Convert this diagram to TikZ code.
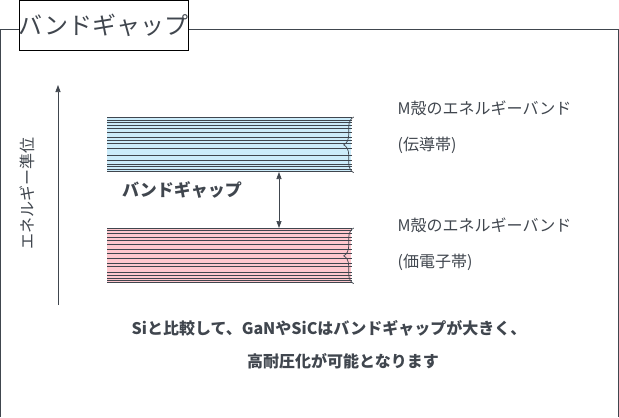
\documentclass[tikz,border=0pt]{standalone}
\usepackage{fontspec}
\setmainfont{Noto Sans CJK JP}
\usetikzlibrary{arrows.meta, positioning, decorations.pathreplacing}
\definecolor{linegray}{RGB}{64,70,78}
\definecolor{condblue}{RGB}{204,236,250}
\definecolor{valpink}{RGB}{255,200,206}
\begin{document}
\begin{tikzpicture}[x=1pt, y=-1pt,
        band/.style={rectangle, draw=none, minimum width=244pt, minimum height=55pt, anchor=north west, inner sep=0pt},
        lbl/.style={font=\fontsize{16}{18}\selectfont, text=linegray, anchor=west},
        every path/.style={line width=0.7pt}
    ]
    \useasboundingbox (0,0) rectangle (619,418);

    % Frame and title
    \draw[linegray] (0,417) -- (0,29.5) -- (618,29.5) -- (618,417);
    \node[draw=black, fill=white, minimum width=143pt, minimum height=50pt, anchor=north west, inner sep=0pt,
          font=\fontsize{24}{26}\selectfont, text=linegray] (title) at (18.5,0.3) {バンドギャップ};

    % Energy axis
    \coordinate (axbot) at (58,305);
    \coordinate (axtop) at (58,85);
    \draw[linegray, -{Triangle[length=7pt, width=5pt]}] (axbot) -- (axtop);
    \node[rotate=90, font=\fontsize{16}{18}\selectfont, text=linegray] (axis) at (27,193) {エネルギー準位};

    % Bands
    \node[band, fill=condblue] (cb) at (107,117) {};
    \node[band, fill=valpink] (vb) at (107,228) {};
    \foreach \d in {0.3,3,5.7,8.3,11.3,15.3,20,23.3,26.7,31.3,38,43.7,47,49.7,52,54.7}
        \draw[linegray] ([yshift=-\d pt]cb.north west) -- ([yshift=-\d pt]cb.north east);
    \foreach \d in {0.3,2.7,5.7,9,12.3,16.7,21.7,25.7,30,35,38.3,44.3,47,50,52.3,54.7}
        \draw[linegray] ([yshift=-\d pt]vb.north west) -- ([yshift=-\d pt]vb.north east);

    % Gap
    \draw[linegray, {Triangle[length=7pt, width=5pt]}-{Triangle[length=7pt, width=5pt]}] (279,172) -- (279,228);
    \node[font=\bfseries\fontsize{17}{19}\selectfont, text=linegray] (gap) at (182,190) {バンドギャップ};

    % Braces
    \draw[linegray, decorate, decoration={brace, mirror, amplitude=10pt}] ([xshift=2pt]cb.north east) -- ([xshift=2pt]cb.south east);
    \draw[linegray, decorate, decoration={brace, mirror, amplitude=10pt}] ([xshift=2pt]vb.north east) -- ([xshift=2pt]vb.south east);
    \node[lbl] (cb1) at (394,108) {M殻のエネルギーバンド};
    \node[lbl] (cb2) at (394,145) {(伝導帯)};
    \node[lbl] (vb1) at (394,225) {M殻のエネルギーバンド};
    \node[lbl] (vb2) at (394,262) {(価電子帯)};

    % Message
    \node[font=\bfseries\fontsize{16}{18}\selectfont, text=linegray] (msg1) at (329,328) {Siと比較して、GaNやSiCはバンドギャップが大きく、};
    \node[font=\bfseries\fontsize{16}{18}\selectfont, text=linegray] (msg2) at (343,361) {高耐圧化が可能となります};
\end{tikzpicture}
\end{document}
